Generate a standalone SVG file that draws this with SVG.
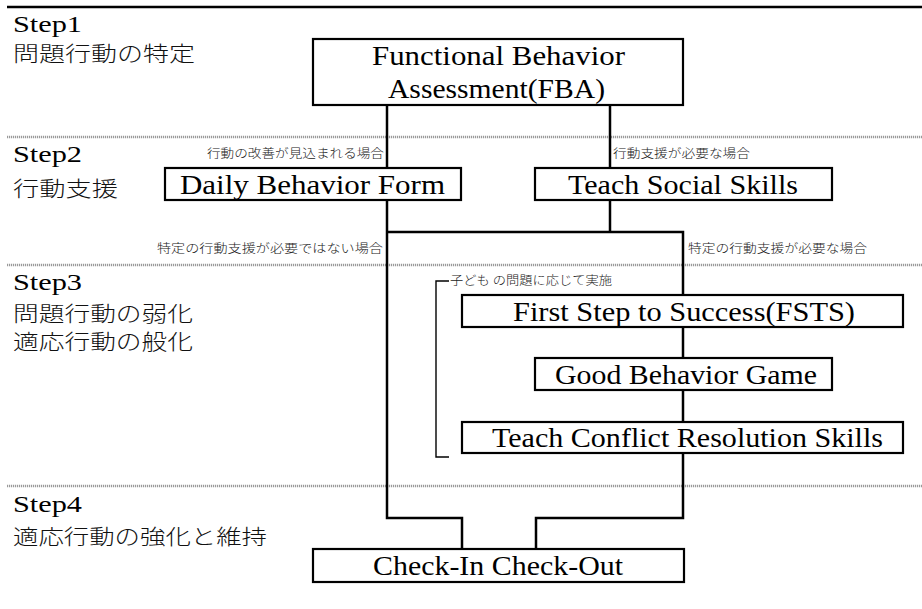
<svg xmlns="http://www.w3.org/2000/svg" width="922" height="609" viewBox="0 0 922 609">
<style>
.bg{fill:#ffffff}
.topline{stroke:#000;stroke-width:2.5;fill:none}
.sep{stroke:#9a9a9a;stroke-width:2.5;stroke-dasharray:1.2 0.8;fill:none}
.box{fill:#fff;stroke:#000;stroke-width:2.2}
.conn{stroke:#000;stroke-width:2.5;fill:none}
.brk{stroke:#000;stroke-width:1.4;fill:none}
.en{font-family:'Liberation Serif','Times New Roman',serif;font-size:27px;fill:#000}
.step{font-family:'Liberation Serif','Times New Roman',serif;font-size:23px;fill:#000}
.jp{font-family:'Noto Sans CJK JP',sans-serif;font-size:21px;font-weight:300;fill:#111}
.sm{font-family:'Noto Sans CJK JP',sans-serif;font-size:12.5px;font-weight:300;fill:#222}
</style>
<rect class="bg" x="0" y="0" width="922" height="609"/>

<g id="frame">
<line class="topline" x1="7" y1="7" x2="922" y2="7"/>
<line class="sep" x1="7" y1="137" x2="922" y2="137"/>
<line class="sep" x1="7" y1="265" x2="922" y2="265"/>
<line class="sep" x1="7" y1="486" x2="922" y2="486"/>
</g>

<g id="steps">
<text class="step" x="13" y="32" textLength="69" lengthAdjust="spacingAndGlyphs">Step1</text>
<text class="jp" x="13" y="61" textLength="182" lengthAdjust="spacingAndGlyphs">問題行動の特定</text>
<text class="step" x="13" y="162" textLength="69" lengthAdjust="spacingAndGlyphs">Step2</text>
<text class="jp" x="13" y="196" textLength="105" lengthAdjust="spacingAndGlyphs">行動支援</text>
<text class="step" x="13" y="290" textLength="69" lengthAdjust="spacingAndGlyphs">Step3</text>
<text class="jp" x="13" y="321" textLength="180" lengthAdjust="spacingAndGlyphs">問題行動の弱化</text>
<text class="jp" x="13" y="349" textLength="180" lengthAdjust="spacingAndGlyphs">適応行動の般化</text>
<text class="step" x="13" y="512" textLength="69" lengthAdjust="spacingAndGlyphs">Step4</text>
<text class="jp" x="13" y="544" textLength="254" lengthAdjust="spacingAndGlyphs">適応行動の強化と維持</text>
</g>

<g id="connectors">
<polyline class="conn" points="387,105 387,168"/>
<polyline class="conn" points="610,105 610,168"/>
<polyline class="conn" points="387,200 387,518 462,518 462,549"/>
<polyline class="conn" points="610,200 610,232"/>
<polyline class="conn" points="387,232 683,232 683,295"/>
<polyline class="conn" points="683,327 683,358"/>
<polyline class="conn" points="683,390 683,422"/>
<polyline class="conn" points="683,453 683,518 536,518 536,549"/>
<polyline class="brk" points="449,281 436,281 436,457 449,457"/>
<text class="sm" x="207" y="158" textLength="177" lengthAdjust="spacingAndGlyphs">行動の改善が見込まれる場合</text>
<text class="sm" x="613" y="158" textLength="137" lengthAdjust="spacingAndGlyphs">行動支援が必要な場合</text>
<text class="sm" x="157" y="253" textLength="226" lengthAdjust="spacingAndGlyphs">特定の行動支援が必要ではない場合</text>
<text class="sm" x="688" y="253" textLength="179" lengthAdjust="spacingAndGlyphs">特定の行動支援が必要な場合</text>
<text class="sm" x="450" y="285" textLength="162" lengthAdjust="spacingAndGlyphs">子ども の問題に応じて実施</text>
</g>

<g id="fba">
<rect class="box" x="313" y="39" width="370" height="66"/>
<text class="en" x="372" y="65" textLength="253" lengthAdjust="spacingAndGlyphs">Functional Behavior</text>
<text class="en" x="388" y="98" textLength="217" lengthAdjust="spacingAndGlyphs">Assessment(FBA)</text>
</g>

<g id="dbf">
<rect class="box" x="165" y="168" width="296" height="32"/>
<text class="en" x="180" y="194" textLength="265" lengthAdjust="spacingAndGlyphs">Daily Behavior Form</text>
</g>

<g id="tss">
<rect class="box" x="535" y="168" width="297" height="32"/>
<text class="en" x="568" y="194" textLength="230" lengthAdjust="spacingAndGlyphs">Teach Social Skills</text>
</g>

<g id="fsts">
<rect class="box" x="462" y="295" width="441" height="32"/>
<text class="en" x="513" y="321" textLength="342" lengthAdjust="spacingAndGlyphs">First Step to Success(FSTS)</text>
</g>

<g id="gbg">
<rect class="box" x="535" y="358" width="297" height="32"/>
<text class="en" x="555" y="384" textLength="262" lengthAdjust="spacingAndGlyphs">Good Behavior Game</text>
</g>

<g id="tcrs">
<rect class="box" x="462" y="422" width="441" height="31"/>
<text class="en" x="492" y="447" textLength="391" lengthAdjust="spacingAndGlyphs">Teach Conflict Resolution Skills</text>
</g>

<g id="cico">
<rect class="box" x="313" y="549" width="371" height="33"/>
<text class="en" x="373" y="575" textLength="250" lengthAdjust="spacingAndGlyphs">Check-In Check-Out</text>
</g>
</svg>
